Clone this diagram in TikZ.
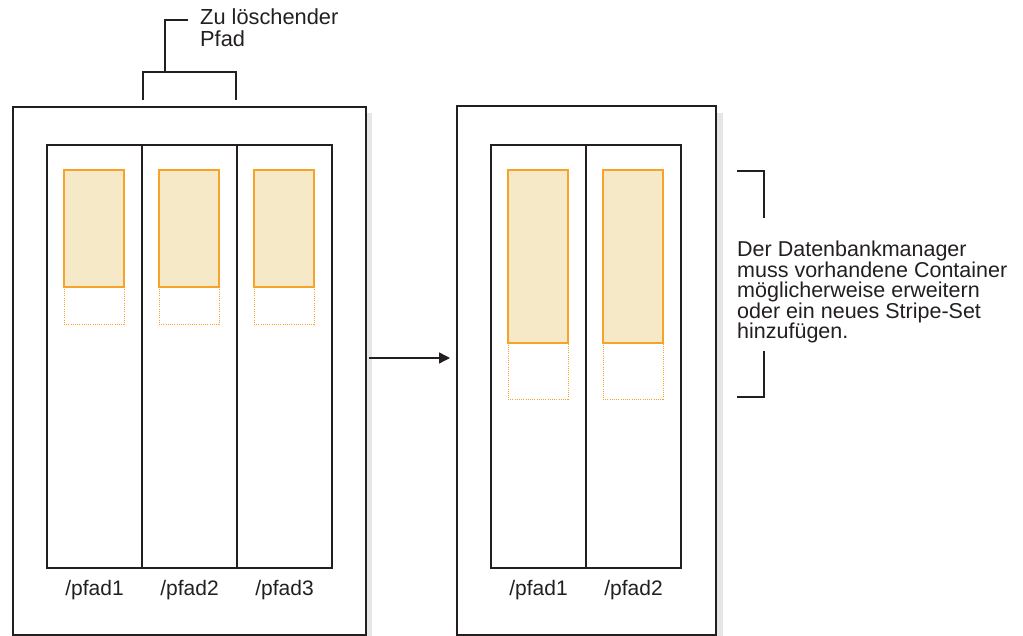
\documentclass[tikz,border=0pt]{standalone}
\usepackage{fontspec}
\setmainfont{Liberation Sans}
\usetikzlibrary{arrows.meta}
\definecolor{lineC}{RGB}{35,31,32}
\definecolor{orangeC}{RGB}{247,162,40}
\definecolor{fillC}{RGB}{245,233,200}
\definecolor{shadowC}{RGB}{230,230,230}
\begin{document}
\begin{tikzpicture}[x=1pt,y=-1pt,
  frame/.style={draw=lineC, line width=1.4pt, fill=white, inner sep=0pt, outer sep=0pt, anchor=north west},
  used/.style={draw=orangeC, line width=1.4pt, fill=fillC, inner sep=0pt, outer sep=0pt, anchor=north west, minimum width=60pt},
  free/.style={draw=orangeC, line width=1pt, dash pattern=on 1pt off 1.2pt, inner sep=0pt, outer sep=0pt, anchor=north west, minimum width=60pt},
  lbl/.style={font=\fontsize{21}{21}\selectfont, text=lineC, inner sep=0pt, anchor=base},
  note/.style={font=\fontsize{21.5}{20.4}\selectfont, text=lineC, inner sep=0pt, align=left, anchor=base west},
  bracket/.style={draw=lineC, line width=1.4pt},
  conn/.style={draw=lineC, line width=1.4pt, -{Triangle[length=11pt,width=11pt]}}]
\useasboundingbox (0,0) rectangle (1023,636);
% shadows
\fill[shadowC] (366,113) rectangle (372,636);
\fill[shadowC] (716,113) rectangle (723,636);
% left container
\node[frame, minimum width=353pt, minimum height=528pt] (L) at (13,107) {};
\node[frame, minimum width=95pt, minimum height=423pt] (L1) at (47,145) {};
\node[frame, minimum width=95pt, minimum height=423pt] (L2) at (142,145) {};
\node[frame, minimum width=95pt, minimum height=423pt] (L3) at (237,145) {};
\node[free, minimum height=155pt] (L1f) at (64,170) {};
\node[free, minimum height=155pt] (L2f) at (159,170) {};
\node[free, minimum height=155pt] (L3f) at (254,170) {};
\node[used, minimum height=117pt] (L1u) at (64,170) {};
\node[used, minimum height=117pt] (L2u) at (159,170) {};
\node[used, minimum height=117pt] (L3u) at (254,170) {};
\node[lbl] (t1) at (94.5,595) {/pfad1};
\node[lbl] (t2) at (189.5,595) {/pfad2};
\node[lbl] (t3) at (284.5,595) {/pfad3};
% right container
\node[frame, minimum width=259pt, minimum height=529pt] (R) at (457,106) {};
\node[frame, minimum width=95pt, minimum height=423pt] (R1) at (491,145) {};
\node[frame, minimum width=95pt, minimum height=423pt] (R2) at (586,145) {};
\node[free, minimum height=229pt] (R1f) at (508,170) {};
\node[free, minimum height=229pt] (R2f) at (603,170) {};
\node[used, minimum height=173pt] (R1u) at (508,170) {};
\node[used, minimum height=173pt] (R2u) at (603,170) {};
\node[lbl] (r1) at (538.5,595) {/pfad1};
\node[lbl] (r2) at (633.5,595) {/pfad2};
% top bracket
\coordinate (bl) at (143,100);
\coordinate (br) at (236,100);
\coordinate (bs) at (165,72);
\coordinate (bt) at (188,20);
\draw[bracket] (bl) -- (143,72) -- (236,72) -- (br);
\draw[bracket] (bs) |- (bt);
\node[note, font=\fontsize{21.8}{22.5}\selectfont] (zu) at (200,47) {Zu löschender\\Pfad};
% arrow
\coordinate (a1) at (369,358);
\coordinate (a2) at (450,358);
\draw[conn] (a1) -- (a2);
% right bracket and note
\coordinate (q1) at (737,171);
\coordinate (q2) at (764,218);
\coordinate (q3) at (764,351);
\coordinate (q4) at (737,397);
\draw[bracket] (q1) -| (q2);
\draw[bracket] (q3) |- (q4);
\node[note] (dbm) at (737,338.6) {Der Datenbankmanager\\muss vorhandene Container\\möglicherweise erweitern\\oder ein neues Stripe-Set\\hinzufügen.};
\end{tikzpicture}
\end{document}
